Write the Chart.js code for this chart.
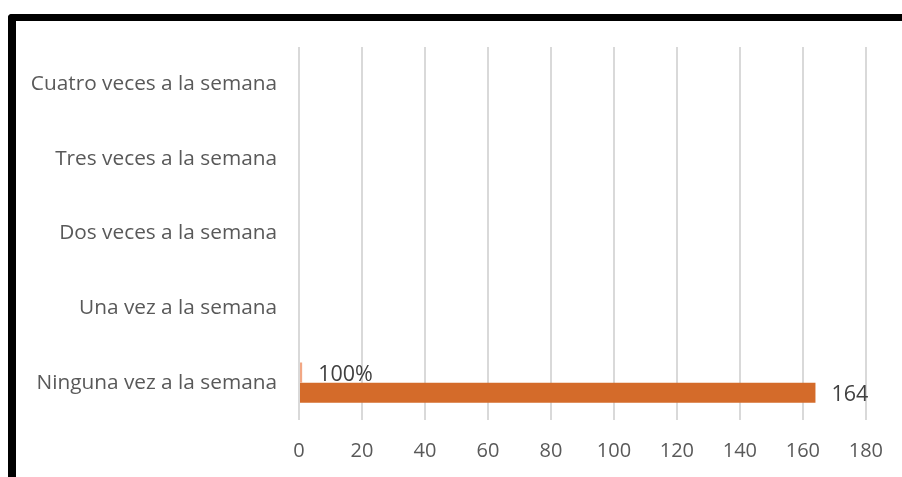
<!DOCTYPE html>
<html>
<head>
<meta charset="utf-8">
<script src="https://cdn.jsdelivr.net/npm/chart.js@4.4.1/dist/chart.umd.min.js"></script>
<style>
  html, body { margin: 0; padding: 0; background: #fff; }
  #wrap { position: relative; width: 902px; height: 477px; overflow: hidden; }
  #frame {
    position: absolute; left: 8px; top: 14px; width: 1000px; height: 600px;
    border-top: 7px solid #000; border-left: 8px solid #000;
    border-top-left-radius: 4px; pointer-events: none;
  }
  canvas { position: absolute; left: 0; top: 0; }
</style>
</head>
<body>
<div id="wrap">
  <canvas id="chart" width="902" height="477"></canvas>
  <div id="frame"></div>
</div>
<script>
// Frequency answers, listed top to bottom as drawn
const categories = [
  'Cuatro veces a la semana',
  'Tres veces a la semana',
  'Dos veces a la semana',
  'Una vez a la semana',
  'Ninguna vez a la semana'
];
const shareValues = [null, null, null, null, 1];     // 1 = 100%
const countValues = [null, null, null, null, 164];
const xTicks = [0, 20, 40, 60, 80, 100, 120, 140, 160, 180];

const FONT = '"Open Sans", "Noto Sans", sans-serif';

// Writes each bar's value just past its end
const valueLabels = {
  id: 'valueLabels',
  afterDatasetsDraw(chart) {
    const ctx = chart.ctx;
    chart.data.datasets.forEach((ds, i) => {
      const meta = chart.getDatasetMeta(i);
      meta.data.forEach((bar, j) => {
        const v = ds.data[j];
        if (v === null || v === undefined) return;
        const text = ds.isShare ? Math.round(v * 100) + '%' : String(v);
        ctx.save();
        ctx.font = '21.5px ' + FONT;
        ctx.fillStyle = '#404040';
        ctx.textAlign = 'left';
        ctx.textBaseline = 'middle';
        ctx.fillText(text, bar.x + 16, bar.y + 2);
        ctx.restore();
      });
    });
  }
};

const ctx = document.getElementById('chart').getContext('2d');
const chart = new Chart(ctx, {
  type: 'bar',
  data: {
    labels: categories,
    datasets: [
      { label: 'Porcentaje', data: shareValues, isShare: true, backgroundColor: '#F2A784' },
      { label: 'Frecuencia', data: countValues, backgroundColor: '#D46B2A' }
    ]
  },
  options: {
    indexAxis: 'y',
    responsive: false,
    animation: false,
    events: [],
    categoryPercentage: 0.54,
    barPercentage: 1.0,
    layout: { padding: { top: 47, right: 35, bottom: 0, left: 0 } },
    plugins: { legend: { display: false }, tooltip: { enabled: false } },
    scales: {
      x: {
        min: 0,
        max: 180,
        afterBuildTicks(scale) { scale.ticks = xTicks.map(v => ({ value: v })); },
        afterFit(scale) { scale.height = 57; },
        grid: { color: '#d9d9d9', lineWidth: 2, drawTicks: false },
        border: { display: false },
        ticks: { color: '#595959', padding: 19, font: { family: FONT, size: 20 } }
      },
      y: {
        afterFit(scale) { scale.width = 299; },
        grid: { display: false, drawTicks: false },
        border: { display: false },
        ticks: { color: '#595959', padding: 22, font: { family: FONT, size: 20.8 } }
      }
    }
  },
  plugins: [valueLabels]
});
</script>
</body>
</html>
